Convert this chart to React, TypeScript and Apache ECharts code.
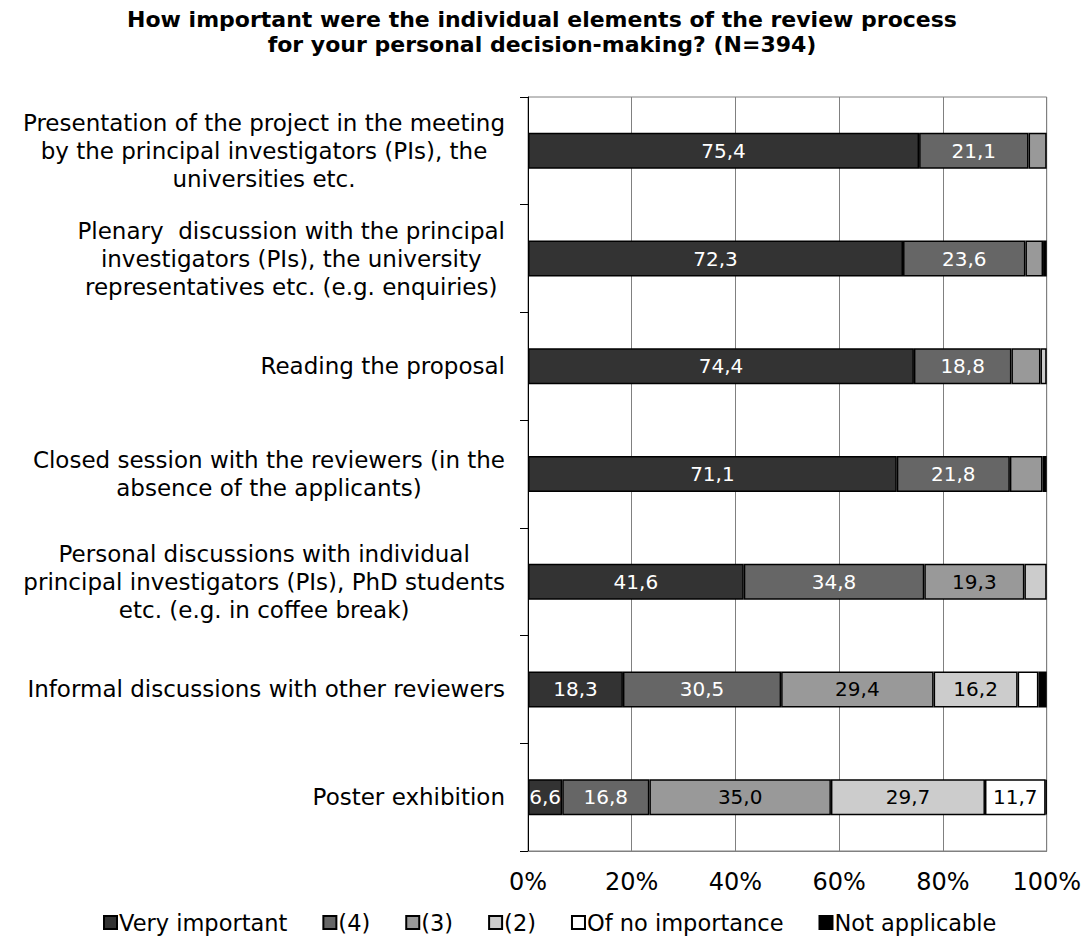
import React, { useEffect, useRef } from "react";
import * as echarts from "echarts";

const titleLines = [
  "How important were the individual elements of the review process",
  "for your personal decision-making? (N=394)",
];

const categories = [
  "Presentation of the project in the meeting\nby the principal investigators (PIs), the\nuniversities etc.",
  "Plenary  discussion with the principal\ninvestigators (PIs), the university\nrepresentatives etc. (e.g. enquiries)",
  "Reading the proposal",
  "Closed session with the reviewers (in the\nabsence of the applicants)",
  "Personal discussions with individual\nprincipal investigators (PIs), PhD students\netc. (e.g. in coffee break)",
  "Informal discussions with other reviewers",
  "Poster exhibition",
];

const seriesNames = ["Very important", "(4)", "(3)", "(2)", "Of no importance", "Not applicable"];

const veryImportant = [75.4, 72.3, 74.4, 71.1, 41.6, 18.3, 6.6];
const four = [21.1, 23.6, 18.8, 21.8, 34.8, 30.5, 16.8];
const three = [3.5, 3.4, 5.6, 6.3, 19.3, 29.4, 35.0];
const two = [0, 0, 1.2, 0, 4.3, 16.2, 29.7];
const noImportance = [0, 0, 0, 0, 0, 4.0, 11.7];
const notApplicable = [0, 0.7, 0, 0.8, 0, 1.6, 0.2];

const xTicks = [0, 20, 40, 60, 80, 100];

const seriesValues = [veryImportant, four, three, two, noImportance, notApplicable];
const seriesColors = ["#333333", "#666666", "#999999", "#cccccc", "#ffffff", "#000000"];
const labelColors = ["#ffffff", "#ffffff", "#000000", "#000000", "#000000", "#ffffff"];

const FONT = "'DejaVu Sans', 'Liberation Sans', Arial, sans-serif";

export default function App() {
  const ref = useRef<HTMLDivElement>(null);

  useEffect(() => {
    if (!ref.current) return;
    const chart = echarts.init(ref.current, null, { renderer: "svg" });
    const option: any = {
      animation: false,
      backgroundColor: "#ffffff",
      textStyle: { fontFamily: FONT },
      title: {
        text: titleLines.join("\n"),
        left: "center",
        top: 2,
        textStyle: {
          fontFamily: FONT,
          fontWeight: "bold",
          fontSize: 22,
          lineHeight: 25,
          color: "#000000",
        },
      },
      legend: {
        data: seriesNames,
        left: 98,
        top: 906,
        itemWidth: 13,
        itemHeight: 13,
        itemGap: 35,
        icon: "rect",
        textStyle: { fontFamily: FONT, fontSize: 22.5, color: "#000000", padding: [0, 0, 0, -3] },
      },
      grid: {
        left: 528,
        right: 37,
        top: 97,
        bottom: 93,
        show: true,
        borderColor: "#808080",
        borderWidth: 1,
        backgroundColor: "transparent",
      },
      xAxis: {
        type: "value",
        min: xTicks[0],
        max: xTicks[xTicks.length - 1],
        interval: 20,
        axisLine: { show: true, lineStyle: { color: "#808080", width: 1 } },
        axisTick: { show: false },
        splitLine: { show: true, lineStyle: { color: "#808080", width: 1 } },
        axisLabel: {
          formatter: (v: number) => `${v}%`,
          fontFamily: FONT,
          fontSize: 24,
          color: "#000000",
          margin: 19,
        },
      },
      yAxis: {
        type: "category",
        data: categories,
        inverse: true,
        axisLine: { show: true, lineStyle: { color: "#000000", width: 1 } },
        axisTick: { show: true, length: 8, alignWithLabel: false, lineStyle: { color: "#000000" } },
        splitLine: { show: false },
        axisLabel: {
          margin: 23,
          align: "right",
          formatter: (v: string) =>
            v
              .split("\n")
              .map((line) => `{c|${line}}`)
              .join("\n"),
          rich: {
            c: {
              align: "center",
              fontFamily: FONT,
              fontSize: 23,
              lineHeight: 28,
              color: "#000000",
            },
          },
        },
      },
      series: seriesNames.map((name, i) => ({
        name,
        type: "bar",
        stack: "total",
        barWidth: 36,
        data: seriesValues[i].map((v) => (v === 0 ? null : v)),
        itemStyle: { color: seriesColors[i], borderColor: "#000000", borderWidth: 1.5 },
        label: {
          show: true,
          position: "inside",
          fontFamily: FONT,
          fontSize: 20,
          color: labelColors[i],
          formatter: (p: any) =>
            p.value != null && p.value >= 6.5 ? Number(p.value).toFixed(1).replace(".", ",") : "",
        },
      })),
    };
    chart.setOption(option);
    return () => chart.dispose();
  }, []);

  return (
    <div
      ref={ref}
      style={{ position: "fixed", left: 0, top: 0, width: 1084, height: 944 }}
    />
  );
}
